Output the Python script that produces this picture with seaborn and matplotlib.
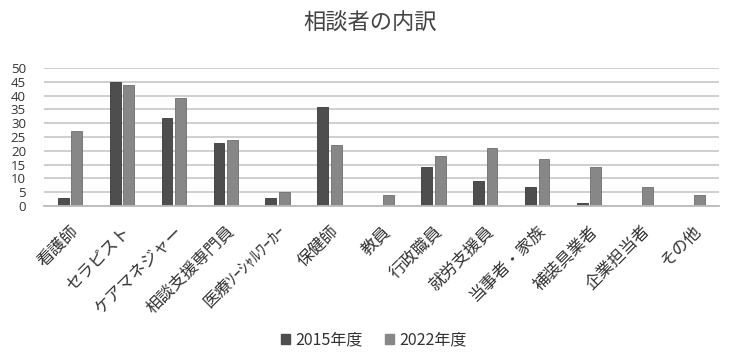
import matplotlib
matplotlib.use("Agg")
import matplotlib.pyplot as plt
import seaborn as sns
import pandas as pd

categories = ["看護師", "セラピスト", "ケアマネジャー", "相談支援専門員", "医療ソーシャルワーカー",
              "保健師", "教員", "行政職員", "就労支援員", "当事者・家族", "補装具業者", "企業担当者", "その他"]
tick_labels = ["看護師", "セラピスト", "ケアマネジャー", "相談支援専門員", "医療ｿｰｼｬﾙﾜｰｶｰ",
               "保健師", "教員", "行政職員", "就労支援員", "当事者・家族", "補装具業者", "企業担当者", "その他"]
series_names = ["2015年度", "2022年度"]
values_2015 = [3, 45, 32, 23, 3, 36, 0, 14, 9, 7, 1, 0, 0]
values_2022 = [27, 44, 39, 24, 5, 22, 4, 18, 21, 17, 14, 7, 4]
title = "相談者の内訳"
y_ticks = [0, 5, 10, 15, 20, 25, 30, 35, 40, 45, 50]

df = pd.DataFrame({
    "category": categories * 2,
    "series": [series_names[0]] * len(categories) + [series_names[1]] * len(categories),
    "value": values_2015 + values_2022,
})

sns.set_theme(style="white")
plt.rcParams["font.family"] = ["Noto Sans CJK JP", "DejaVu Sans"]

fig = plt.figure(figsize=(7.4, 3.56), dpi=100)
ax = fig.add_axes([0.0595, 0.4213, 0.912, 0.3877])

palette = {series_names[0]: "#4e4e4e", series_names[1]: "#878787"}
sns.barplot(data=df, x="category", y="value", hue="series", order=categories,
            hue_order=series_names, palette=palette, width=0.52, gap=0.2,
            ax=ax, legend=False, edgecolor="#3c3c3c", linewidth=0.6, saturation=1)
for p, c in zip(ax.patches, ["#3a3a3a"] * len(categories) + ["#6e6e6e"] * len(categories)):
    p.set_edgecolor(c)

ax.set_ylim(0, 50)
ax.set_xlim(-0.5, len(categories) - 0.5)
ax.set_yticks(y_ticks)
ax.set_yticklabels([str(v) for v in y_ticks], fontsize=9.5, color="#333333",
                   family=["Open Sans", "DejaVu Sans"])
ax.yaxis.grid(True, color="#cccccc", linewidth=1.3)
ax.set_axisbelow(True)
for s in ["top", "right", "left"]:
    ax.spines[s].set_visible(False)
ax.spines["bottom"].set_color("#bbbbbb")
ax.spines["bottom"].set_linewidth(1.3)
ax.tick_params(axis="both", length=0)
ax.tick_params(axis="y", pad=13)
ax.tick_params(axis="x", pad=12)
ax.set_xticks(range(len(categories)))
ax.set_xticklabels(tick_labels, rotation=45, ha="right", rotation_mode="anchor",
                   fontsize=12, color="#333333")
ax.set_xlabel("")
ax.set_ylabel("")

fig.text(0.5, 0.935, title, ha="center", va="center", fontsize=16, color="#444444")

from matplotlib.patches import Patch
handles = [Patch(facecolor=palette[n], edgecolor=palette[n]) for n in series_names]
fig.legend(handles, series_names, loc="center", bbox_to_anchor=(0.505, 0.045), ncol=2,
           frameon=False, fontsize=11.5, handlelength=0.6, handleheight=0.6,
           handletextpad=0.3, columnspacing=1.4, labelcolor="#333333")

fig.savefig("out.png", dpi=100)
